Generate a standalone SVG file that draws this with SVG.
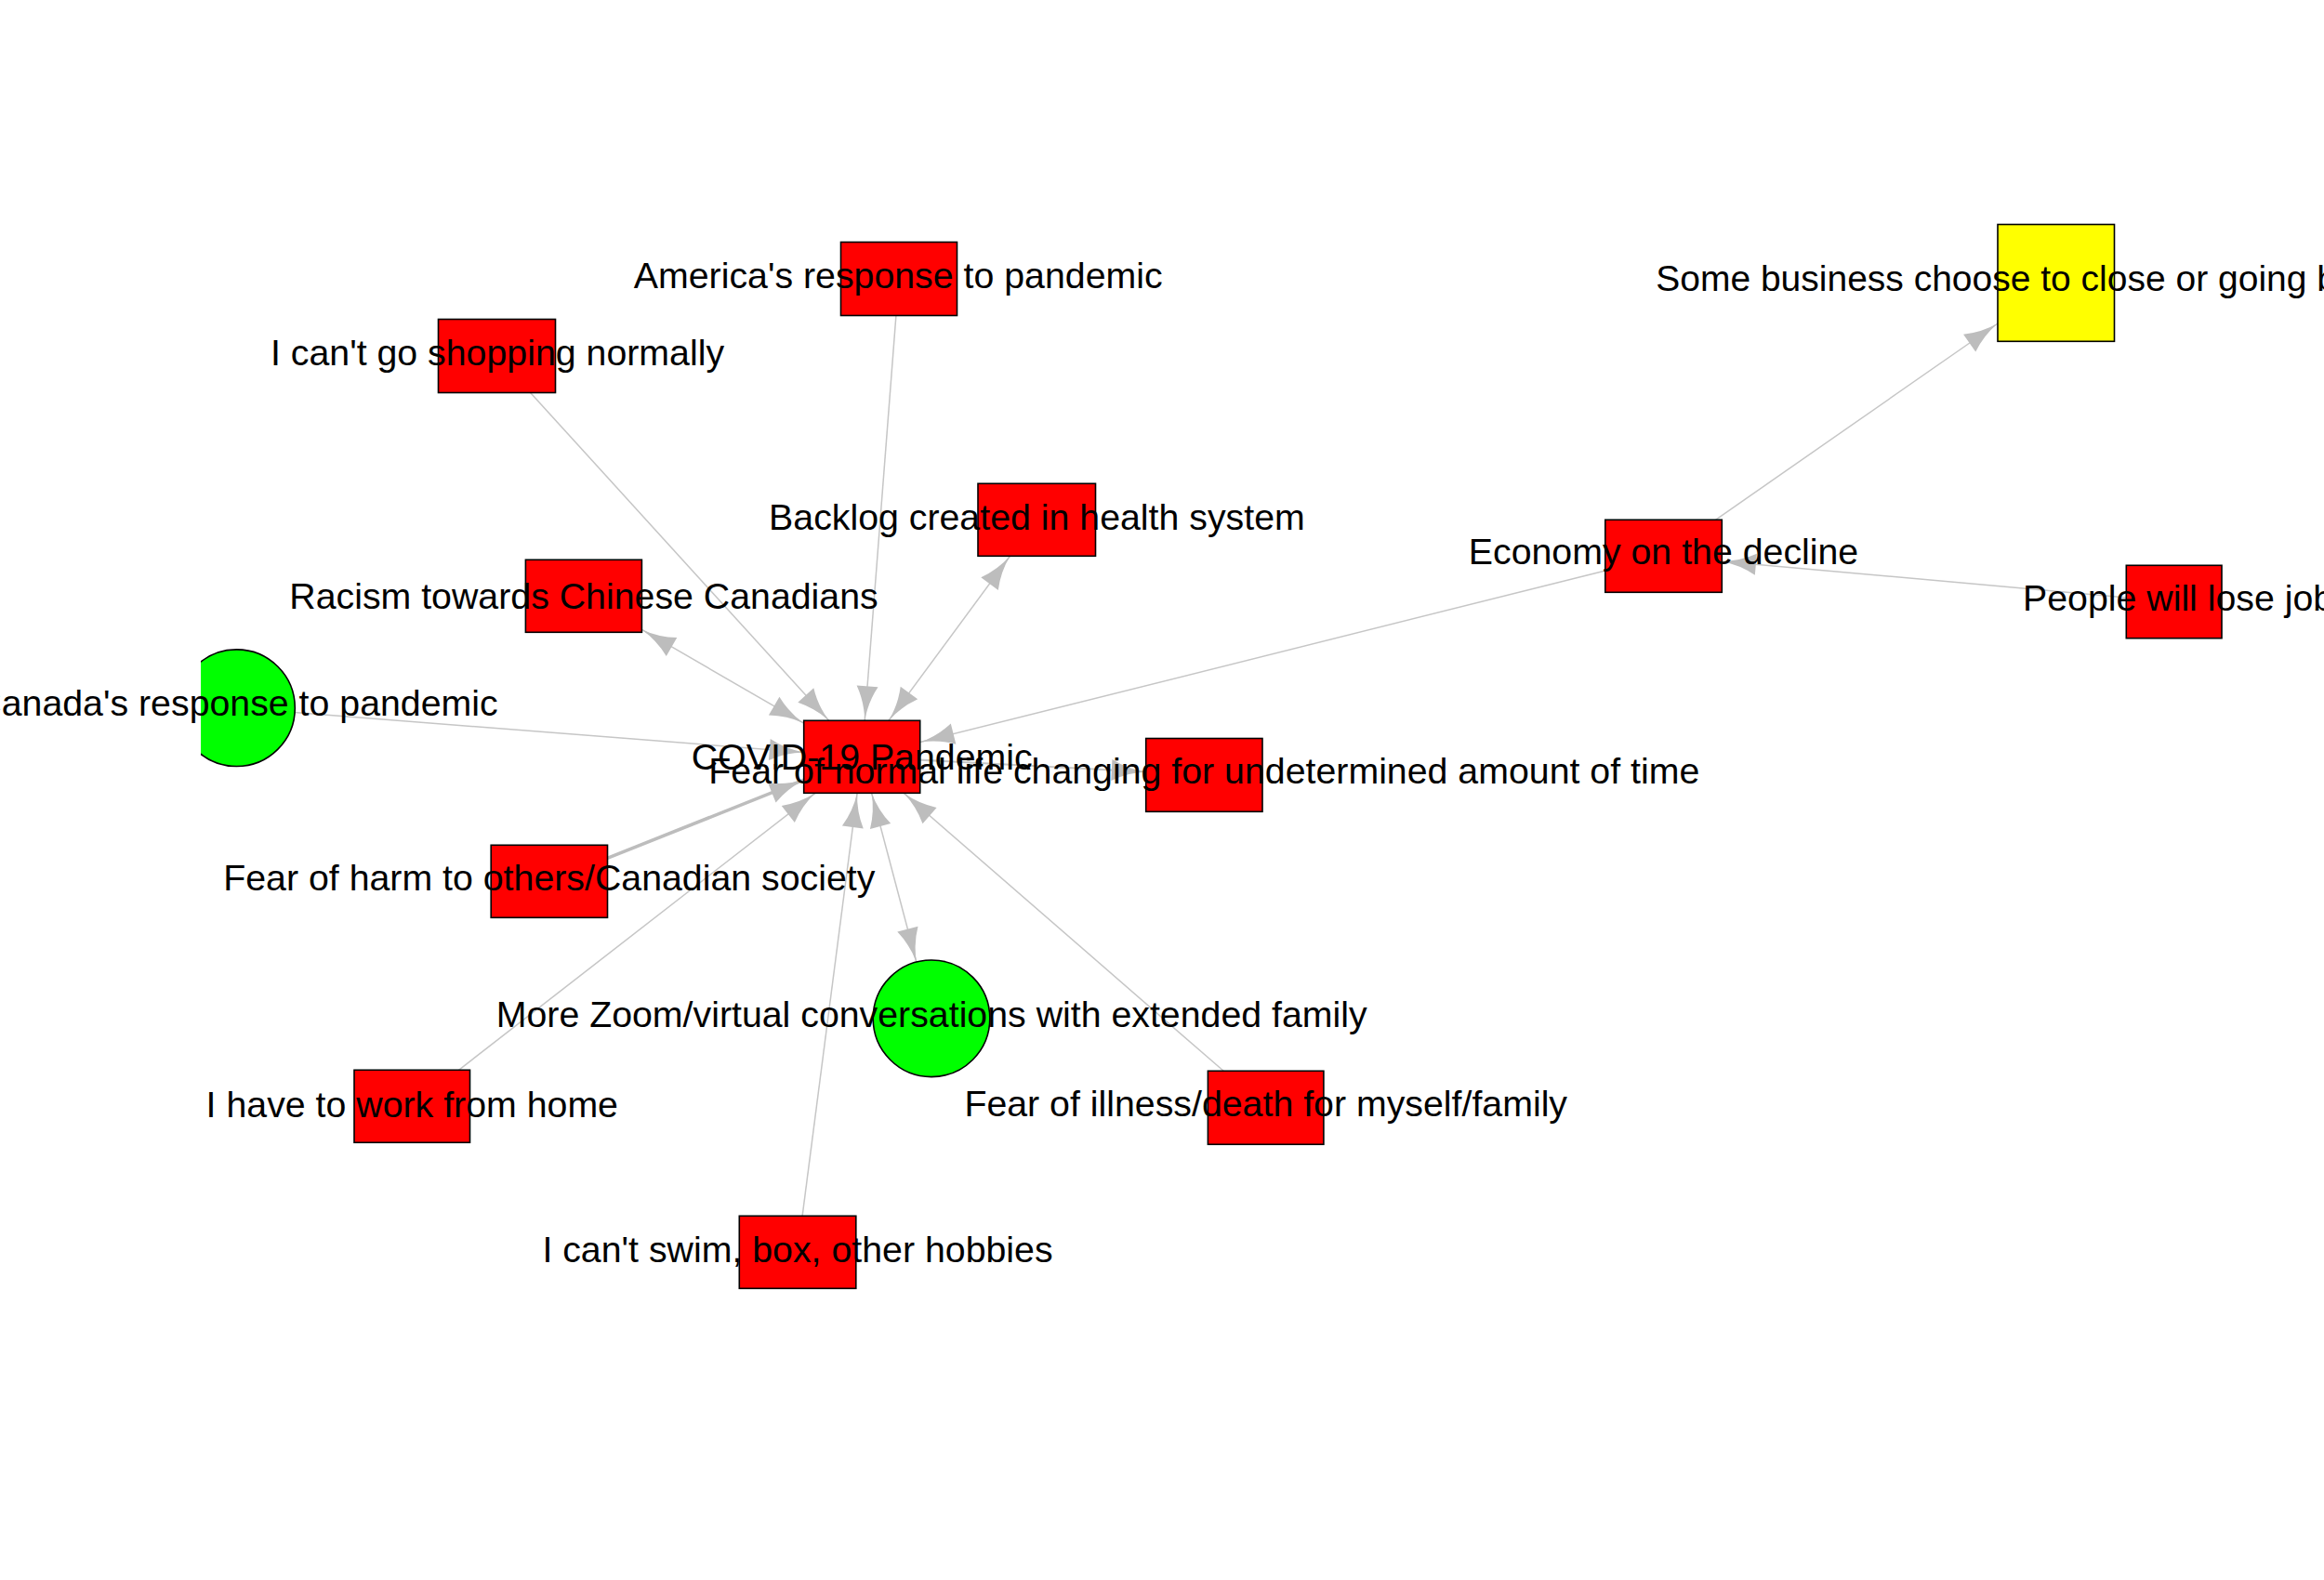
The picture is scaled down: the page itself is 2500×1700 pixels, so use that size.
<svg xmlns="http://www.w3.org/2000/svg" width="2500" height="1700" viewBox="0 0 2500 1700">
<style>
.e{fill:none;stroke:#c6c6c6;stroke-width:1.5}
.box{stroke:#000;stroke-width:1.6}
.red{fill:#ff0000}
.green{fill:#00ff00}
.yellow{fill:#ffff00}
text{font-family:"Liberation Sans",Arial,sans-serif;font-size:39.3px;fill:#000}
.c{text-anchor:middle}
</style>
<defs>
<marker id="ah" viewBox="-40 -14 42 28" markerWidth="42" markerHeight="28" refX="0" refY="0" orient="auto-start-reverse" markerUnits="userSpaceOnUse">
<path d="M0,0 Q-20,2 -37,11.5 L-37,-11.5 Q-20,-2 0,0 Z" fill="#bdbdbd"/>
</marker>
<clipPath id="leftclip"><rect x="216" y="0" width="2284" height="1700"/></clipPath>
</defs>
<rect x="0" y="0" width="2500" height="1700" fill="#ffffff"/>
<g id="edges">
<path class="e" d="M570.1,422 L891.7,775.3" marker-end="url(#ah)"/>
<path class="e" d="M963.9,339.7 L930.2,775.3" marker-end="url(#ah)"/>
<path class="e" d="M1086.5,598.3 L956,775.3" marker-start="url(#ah)" marker-end="url(#ah)"/>
<path class="e" d="M690.5,677.4 L864.7,778.2" marker-start="url(#ah)" marker-end="url(#ah)"/>
<path class="e" d="M316.8,766.6 L864.7,809.4" marker-end="url(#ah)"/>
<path class="e" d="M1727,614 L989.7,798.6" marker-end="url(#ah)"/>
<path class="e" d="M1845.5,559.3 L2149,348" marker-end="url(#ah)"/>
<path class="e" d="M2287.4,642.9 L1852,603.9" marker-end="url(#ah)"/>
<path class="e" d="M989.7,817.6 L1232.8,830.5" style="stroke-width:2.2" marker-end="url(#ah)"/>
<path class="e" d="M653.3,923.4 L864.7,839.2" style="stroke-width:3.6;stroke:#bdbdbd" marker-end="url(#ah)"/>
<path class="e" d="M493.5,1151.3 L877,853.3" marker-end="url(#ah)"/>
<path class="e" d="M863.1,1308.3 L922.1,853.3" marker-end="url(#ah)"/>
<path class="e" d="M985.9,1035.4 L937.6,853.3" marker-start="url(#ah)" marker-end="url(#ah)"/>
<path class="e" d="M1316.2,1152.3 L972.1,853.3" marker-end="url(#ah)"/>
</g>
<g id="n-covid"><rect class="box red" x="864.7" y="775.3" width="125" height="78"/><text class="c" x="927.2" y="828">COVID-19 Pandemic</text></g>
<g id="n-america"><rect class="box red" x="904.5" y="260.5" width="125" height="79"/><text class="c" x="966.2" y="310">America's response to pandemic</text></g>
<g id="n-shopping"><rect class="box red" x="471.5" y="343.5" width="126" height="79"/><text class="c" x="535" y="393">I can't go shopping normally</text></g>
<g id="n-backlog"><rect class="box red" x="1052" y="520.3" width="126.5" height="78"/><text class="c" x="1115.4" y="570">Backlog created in health system</text></g>
<g id="n-racism"><rect class="box red" x="565.4" y="602.3" width="125" height="78"/><text class="c" x="628" y="655">Racism towards Chinese Canadians</text></g>
<g id="n-canada"><circle class="box green" cx="254.5" cy="761.7" r="62.8" clip-path="url(#leftclip)"/><text class="c" x="254.5" y="770">Canada's response to pandemic</text></g>
<g id="n-economy"><rect class="box red" x="1726.8" y="559.3" width="125.5" height="78"/><text class="c" x="1789.5" y="607">Economy on the decline</text></g>
<g id="n-business"><rect class="box yellow" x="2149" y="241.5" width="125.5" height="125.8"/><text x="1781.2" y="313" style="font-size:39px">Some business choose to close or going bankrupt</text></g>
<g id="n-people"><rect class="box red" x="2287.3" y="608.3" width="102.7" height="78.4"/><text x="2176" y="657">People will lose jobs</text></g>
<g id="n-fearnormal"><rect class="box red" x="1232.7" y="794.5" width="125.3" height="78.8"/><text class="c" x="1295.3" y="843">Fear of normal life changing for undetermined amount of time</text></g>
<g id="n-harm"><rect class="box red" x="528.2" y="909.3" width="125.3" height="78"/><text class="c" x="590.8" y="958">Fear of harm to others/Canadian society</text></g>
<g id="n-zoom"><circle class="box green" cx="1002" cy="1095.8" r="62.8"/><text class="c" x="1002.2" y="1105">More Zoom/virtual conversations with extended family</text></g>
<g id="n-work"><rect class="box red" x="381" y="1151.3" width="124.5" height="78"/><text class="c" x="443.3" y="1202">I have to work from home</text></g>
<g id="n-illness"><rect class="box red" x="1299.4" y="1152.3" width="124.5" height="79"/><text class="c" x="1361.7" y="1201">Fear of illness/death for myself/family</text></g>
<g id="n-swim"><rect class="box red" x="795.3" y="1308.3" width="125.5" height="78"/><text class="c" x="858" y="1358">I can't swim, box, other hobbies</text></g>
</svg>
